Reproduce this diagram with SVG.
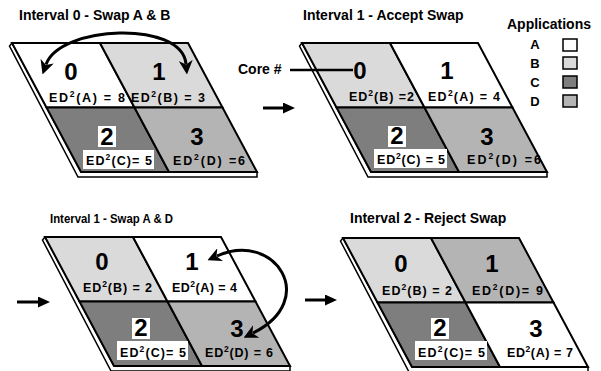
<svg xmlns="http://www.w3.org/2000/svg" width="601" height="371" viewBox="0 0 601 371">
  <style>
    text { font-family: "Liberation Sans", Arial, sans-serif; font-weight: bold; fill: #000; }
    .title { font-size: 14px; }
    .digit { font-size: 24px; text-anchor: middle; }
    .lbl { font-size: 12.5px; }
    .sup { font-size: 8.5px; }
    .key-letter { font-size: 13px; text-anchor: middle; }
    .slab { fill: #fff; stroke: #000; stroke-width: 1.5; stroke-linejoin: miter; }
    .q { stroke: #000; stroke-width: 2; stroke-linejoin: miter; }
    .appA { fill: #ffffff; }
    .appB { fill: #dadada; }
    .appC { fill: #7e7e7e; }
    .appD { fill: #b4b4b4; }
    .bg { fill: #fff; }
    .wire { fill: none; stroke: #000; stroke-width: 3; }
    .key { stroke: #000; stroke-width: 1.5; }
  </style>
  <defs>
    <!-- chip outline: slab edge plus four core quadrants share one shape set -->
    <polygon id="slab" points="0,0 -2.5,3 66,134 245,134 245,129 69,129"/>
    <polygon id="q0" points="0,0 88,0 122.5,64.5 34.5,64.5"/>
    <polygon id="q1" points="88,0 176,0 210.5,64.5 122.5,64.5"/>
    <polygon id="q2" points="34.5,64.5 122.5,64.5 157,129 69,129"/>
    <polygon id="q3" points="122.5,64.5 210.5,64.5 245,129 157,129"/>
    <marker id="barb" viewBox="0 0 12 12" markerWidth="14" markerHeight="14" markerUnits="userSpaceOnUse" refX="3" refY="6" orient="auto-start-reverse">
      <path d="M0,0 L12,6 L0,12 L3.5,6 z" fill="#000"/>
    </marker>
    <marker id="head" viewBox="0 0 12 11" markerWidth="12" markerHeight="11" markerUnits="userSpaceOnUse" refX="2" refY="5.5" orient="auto">
      <path d="M0,0 L12,5.5 L0,11 z" fill="#000"/>
    </marker>
  </defs>

  <!-- panel titles -->
  <text class="title" x="19" y="20">Interval 0 - Swap A &amp; B</text>
  <text class="title" x="303" y="20">Interval 1 - Accept Swap</text>
  <text class="title" x="50" y="223" style="font-size:12px" textLength="123" lengthAdjust="spacingAndGlyphs">Interval 1 - Swap A &amp; D</text>
  <text class="title" x="350" y="223">Interval 2 - Reject Swap</text>

  <!-- Interval 0 -->
  <g id="chip-interval0" transform="translate(12,43)">
    <use href="#slab" class="slab"/>
    <use href="#q0" class="q appA"/>
    <use href="#q1" class="q appB"/>
    <use href="#q2" class="q appC"/>
    <use href="#q3" class="q appD"/>
    <text class="digit" x="59" y="37">0</text>
    <text class="digit" x="147" y="37">1</text>
    <text class="lbl" x="37" y="59" textLength="76" lengthAdjust="spacing">ED<tspan class="sup" dy="-5">2</tspan><tspan dy="5">(A) = 8</tspan></text>
    <text class="lbl" x="119" y="59" textLength="74" lengthAdjust="spacing">ED<tspan class="sup" dy="-5">2</tspan><tspan dy="5">(B) = 3</tspan></text>
    <rect class="bg" x="86" y="83" width="18" height="21"/>
    <text class="digit" x="95" y="102">2</text>
    <rect class="bg" x="71" y="107" width="71" height="19"/>
    <text class="lbl" x="74" y="122" textLength="66" lengthAdjust="spacing">ED<tspan class="sup" dy="-5">2</tspan><tspan dy="5">(C)= 5</tspan></text>
    <text class="digit" x="185" y="102">3</text>
    <text class="lbl" x="161" y="122" textLength="72" lengthAdjust="spacing">ED<tspan class="sup" dy="-5">2</tspan><tspan dy="5">(D) =6</tspan></text>
  </g>

  <!-- Interval 1, swap accepted -->
  <g id="chip-interval1-accept" transform="translate(302,43)">
    <use href="#slab" class="slab"/>
    <use href="#q0" class="q appB"/>
    <use href="#q1" class="q appA"/>
    <use href="#q2" class="q appC"/>
    <use href="#q3" class="q appD"/>
    <text class="digit" x="58" y="36">0</text>
    <text class="digit" x="145" y="36">1</text>
    <text class="lbl" x="47" y="58" textLength="65" lengthAdjust="spacing">ED<tspan class="sup" dy="-5">2</tspan><tspan dy="5">(B) =2</tspan></text>
    <text class="lbl" x="126" y="58" textLength="72" lengthAdjust="spacing">ED<tspan class="sup" dy="-5">2</tspan><tspan dy="5">(A) = 4</tspan></text>
    <rect class="bg" x="86" y="83" width="18" height="21"/>
    <text class="digit" x="95" y="101">2</text>
    <rect class="bg" x="72" y="106" width="73" height="19"/>
    <text class="lbl" x="75" y="121" textLength="68" lengthAdjust="spacing">ED<tspan class="sup" dy="-5">2</tspan><tspan dy="5">(C) = 5</tspan></text>
    <text class="digit" x="185" y="102">3</text>
    <text class="lbl" x="165" y="121" textLength="74" lengthAdjust="spacing">ED<tspan class="sup" dy="-5">2</tspan><tspan dy="5">(D) =6</tspan></text>
  </g>

  <!-- Interval 1, proposed swap A and D -->
  <g id="chip-interval1-swap" transform="translate(45,237)">
    <use href="#slab" class="slab"/>
    <use href="#q0" class="q appB"/>
    <use href="#q1" class="q appA"/>
    <use href="#q2" class="q appC"/>
    <use href="#q3" class="q appD"/>
    <text class="digit" x="57" y="33">0</text>
    <text class="digit" x="147" y="33">1</text>
    <text class="lbl" x="38" y="55" textLength="69" lengthAdjust="spacing">ED<tspan class="sup" dy="-5">2</tspan><tspan dy="5">(B) = 2</tspan></text>
    <text class="lbl" x="127" y="55" textLength="65" lengthAdjust="spacing">ED<tspan class="sup" dy="-5">2</tspan><tspan dy="5">(A) = 4</tspan></text>
    <rect class="bg" x="87" y="81" width="18" height="21"/>
    <text class="digit" x="96" y="99">2</text>
    <rect class="bg" x="72" y="104" width="71" height="19"/>
    <text class="lbl" x="75" y="120" textLength="66" lengthAdjust="spacing">ED<tspan class="sup" dy="-5">2</tspan><tspan dy="5">(C)= 5</tspan></text>
    <text class="digit" x="192" y="100">3</text>
    <text class="lbl" x="160" y="120" textLength="68" lengthAdjust="spacing">ED<tspan class="sup" dy="-5">2</tspan><tspan dy="5">(D) = 6</tspan></text>
  </g>

  <!-- Interval 2, swap rejected -->
  <g id="chip-interval2" transform="translate(343,238)">
    <use href="#slab" class="slab"/>
    <use href="#q0" class="q appB"/>
    <use href="#q1" class="q appD"/>
    <use href="#q2" class="q appC"/>
    <use href="#q3" class="q appA"/>
    <text class="digit" x="58" y="34">0</text>
    <text class="digit" x="149" y="34">1</text>
    <text class="lbl" x="39" y="57" textLength="70" lengthAdjust="spacing">ED<tspan class="sup" dy="-5">2</tspan><tspan dy="5">(B) = 2</tspan></text>
    <text class="lbl" x="129" y="57" textLength="71" lengthAdjust="spacing">ED<tspan class="sup" dy="-5">2</tspan><tspan dy="5">(D)= 9</tspan></text>
    <rect class="bg" x="88" y="80" width="18" height="21"/>
    <text class="digit" x="97" y="98">2</text>
    <rect class="bg" x="72" y="103" width="72" height="19"/>
    <text class="lbl" x="75" y="119" textLength="67" lengthAdjust="spacing">ED<tspan class="sup" dy="-5">2</tspan><tspan dy="5">(C)= 5</tspan></text>
    <text class="digit" x="193" y="99">3</text>
    <text class="lbl" x="164" y="119" textLength="66" lengthAdjust="spacing">ED<tspan class="sup" dy="-5">2</tspan><tspan dy="5">(A) = 7</tspan></text>
  </g>

  <!-- legend -->
  <g id="legend">
    <text class="title" x="507" y="29">Applications</text>
    <text class="key-letter" x="535" y="49">A</text>
    <text class="key-letter" x="535" y="68">B</text>
    <text class="key-letter" x="535" y="87">C</text>
    <text class="key-letter" x="535" y="106">D</text>
    <rect class="key appA" x="563" y="39" width="14" height="12"/>
    <rect class="key appB" x="563" y="57" width="14" height="12"/>
    <rect class="key appC" x="563" y="76" width="14" height="12"/>
    <rect class="key appD" x="563" y="95" width="14" height="12"/>
  </g>

  <!-- core number callout -->
  <g id="core-callout">
    <text x="238" y="74" style="font-size:14px">Core #</text>
  </g>

  <!-- connectors -->
  <g id="connectors">
    <line x1="290" y1="70" x2="353" y2="70" stroke="#000" stroke-width="2.5"/>
    <path class="wire" d="M46,64.5 C60,25 182,20 186,64" marker-start="url(#barb)" marker-end="url(#barb)"/>
    <path class="wire" d="M217,256 C275,230 320,300 253,333" marker-start="url(#barb)" marker-end="url(#barb)"/>
    <line x1="263" y1="108" x2="285" y2="108" stroke="#000" stroke-width="3" marker-end="url(#head)"/>
    <line x1="17" y1="302" x2="40" y2="302" stroke="#000" stroke-width="3" marker-end="url(#head)"/>
    <line x1="305" y1="300" x2="327" y2="300" stroke="#000" stroke-width="3" marker-end="url(#head)"/>
  </g>
</svg>
